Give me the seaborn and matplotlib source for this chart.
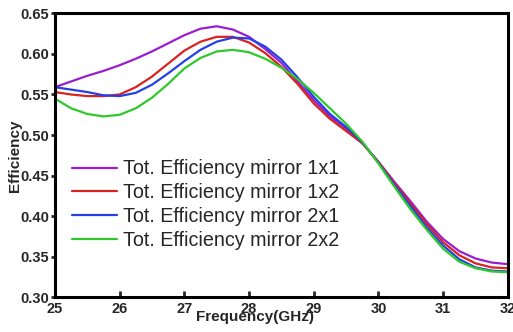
import matplotlib
matplotlib.use("Agg")
from matplotlib import pyplot as plt
import pandas as pd
import seaborn as sns

# values
freq = [25, 25.25, 25.5, 25.75, 26, 26.25, 26.5, 26.75, 27, 27.25, 27.5, 27.75,
        28, 28.25, 28.5, 28.75, 29, 29.25, 29.5, 29.75, 30, 30.25, 30.5, 30.75,
        31, 31.25, 31.5, 31.75, 32]
eff_1x1 = [0.559, 0.566, 0.573, 0.579, 0.586, 0.594, 0.603, 0.613, 0.623, 0.631,
           0.634, 0.630, 0.621, 0.606, 0.589, 0.566, 0.543, 0.523, 0.508, 0.490,
           0.467, 0.442, 0.418, 0.393, 0.372, 0.357, 0.348, 0.343, 0.341]
eff_1x2 = [0.553, 0.550, 0.548, 0.548, 0.550, 0.559, 0.572, 0.588, 0.604, 0.615,
           0.621, 0.621, 0.614, 0.601, 0.584, 0.563, 0.539, 0.520, 0.505, 0.490,
           0.467, 0.440, 0.415, 0.390, 0.368, 0.352, 0.342, 0.337, 0.336]
eff_2x1 = [0.559, 0.556, 0.553, 0.549, 0.548, 0.552, 0.562, 0.576, 0.591, 0.605,
           0.615, 0.620, 0.619, 0.609, 0.593, 0.571, 0.547, 0.526, 0.510, 0.491,
           0.466, 0.438, 0.412, 0.386, 0.364, 0.347, 0.337, 0.333, 0.332]
eff_2x2 = [0.545, 0.533, 0.526, 0.523, 0.525, 0.533, 0.546, 0.563, 0.582, 0.595,
           0.603, 0.605, 0.602, 0.594, 0.583, 0.569, 0.552, 0.533, 0.514, 0.492,
           0.465, 0.436, 0.408, 0.383, 0.360, 0.344, 0.336, 0.332, 0.331]
labels = ["Tot. Efficiency mirror 1x1", "Tot. Efficiency mirror 1x2",
          "Tot. Efficiency mirror 2x1", "Tot. Efficiency mirror 2x2"]
colors = ["#9A1ECF", "#D8231F", "#2440E6", "#2FC92A"]
xticks = [25, 26, 27, 28, 29, 30, 31, 32]
yticks = [0.30, 0.35, 0.40, 0.45, 0.50, 0.55, 0.60, 0.65]

# long form table for seaborn
frames = []
for lab, vals in zip(labels, [eff_1x1, eff_1x2, eff_2x1, eff_2x2]):
    frames.append(pd.DataFrame({"freq": freq, "eff": vals, "series": lab}))
df = pd.concat(frames, ignore_index=True)

sns.set_style("ticks")
plt.rcParams['font.family'] = ['Liberation Sans', 'DejaVu Sans']

fig, ax = plt.subplots(figsize=(5.13, 3.32), dpi=100)
sns.lineplot(data=df, x="freq", y="eff", hue="series", hue_order=labels,
             palette=colors, linewidth=1.6, ax=ax, legend=True)

ax.set_xlim(25, 32)
ax.set_ylim(0.30, 0.65)
ax.set_xticks(xticks)
ax.set_yticks(yticks)
ax.set_xticklabels([str(t) for t in xticks], fontsize=10.5, fontweight='bold')
ax.set_yticklabels([f"{t:.2f}" for t in yticks], fontsize=10.5, fontweight='bold')
ax.tick_params(axis='x', direction='in', length=4, width=2, pad=3)
ax.tick_params(axis='y', direction='out', length=3, width=2, pad=1)

for sp in ax.spines.values():
    sp.set_linewidth(2.2)
    sp.set_color('black')

ax.set_xlabel("Frequency(GHz)", fontsize=11, fontweight='bold', va='top')
ax.xaxis.set_label_coords(0.4415, -0.045)
ax.set_ylabel("Efficiency", fontsize=11, fontweight='bold')
ax.yaxis.set_label_coords(-0.072, 0.5)

handles, _ = ax.get_legend_handles_labels()
ax.legend(handles=handles, labels=labels, loc='center left',
          bbox_to_anchor=(0.0375, 0.327), frameon=False, fontsize=14.2,
          handlelength=2.3, handletextpad=0.3, labelspacing=0.24,
          borderpad=0, borderaxespad=0)

plt.subplots_adjust(left=0.107, right=0.990, bottom=0.104, top=0.960)
plt.savefig("out.png", dpi=100)
